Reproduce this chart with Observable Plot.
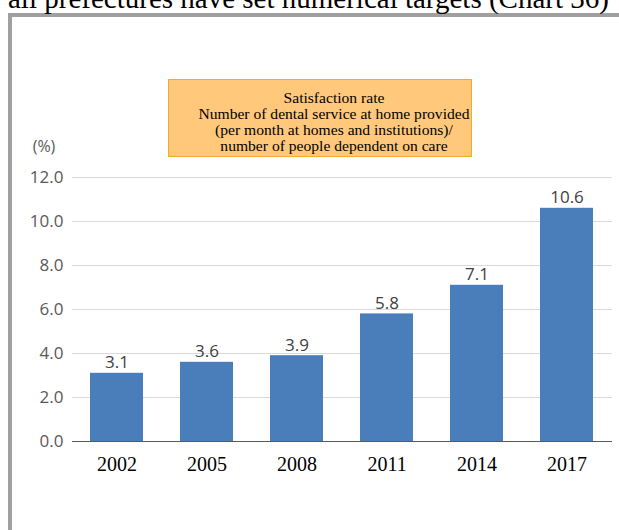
<!DOCTYPE html>
<html><head><meta charset="utf-8">
<script src="https://cdn.jsdelivr.net/npm/d3@7"></script>
<script src="https://cdn.jsdelivr.net/npm/@observablehq/plot@0.6"></script>
<style>
body{margin:0;background:#fff}
#wrap{position:relative;width:619px;height:530px;overflow:hidden;background:#fff}
#title{position:absolute;left:8px;top:-16px;white-space:nowrap;font-family:"Liberation Serif",serif;font-size:29px;line-height:29px;color:#000}
#frame{position:absolute;left:8px;top:13px;width:800px;height:800px;border:4px solid #a0a0a0;box-sizing:border-box}
#chart{position:absolute;left:0;top:0}
#unit{position:absolute;left:14px;width:60px;text-align:center;top:136px;font-family:"Open Sans",sans-serif;font-size:16px;line-height:20px;color:#595959}
#box{position:absolute;left:168px;top:79px;width:304px;height:78px;box-sizing:border-box;background:#ffc87a;border:1px solid #f5a833}
#boxtext{position:absolute;left:134px;width:400px;top:89.8px;text-align:center;font-family:"Liberation Serif",serif;font-size:15.6px;line-height:16px;color:#000;white-space:nowrap}
</style></head><body>
<div id="wrap">
 <div id="frame"></div>
 <div id="title">all prefectures have set numerical targets (Chart 36)</div>
 <div id="chart"></div>
 <div id="unit">(%)</div>
 <div id="box"></div>
 <div id="boxtext"></div>
</div>
<script>
const years = ["2002","2005","2008","2011","2014","2017"];
const rates = [3.1, 3.6, 3.9, 5.8, 7.1, 10.6];
const yTicks = [0, 2, 4, 6, 8, 10, 12];
const boxLines = [
  "Satisfaction rate",
  "Number of dental service at home provided",
  "(per month at homes and institutions)/",
  "number of people dependent on care"
];
const data = years.map((y, i) => ({year: y, rate: rates[i]}));

document.getElementById("boxtext").innerHTML = boxLines.map(t => `<div>${t}</div>`).join("");

const chart = Plot.plot({
  width: 619, height: 530,
  marginLeft: 72, marginRight: 7, marginTop: 177, marginBottom: 89,
  style: {background: "transparent", fontFamily: "'Open Sans', sans-serif", fontSize: "17px"},
  x: {domain: years, paddingInner: 0.41, paddingOuter: 0.205, label: null},
  y: {domain: [0, 12], label: null},
  marks: [
    Plot.gridY(yTicks, {stroke: "#d9d9d9", strokeOpacity: 1}),
    Plot.axisY(yTicks, {tickSize: 0, tickPadding: 9, tickFormat: d => d.toFixed(1), fill: "#595959", fontSize: 17, label: null}),
    Plot.barY(data, {x: "year", y: "rate", fill: "#4a7ebb"}),
    Plot.ruleY([0], {stroke: "#595959"}),
    Plot.axisX({tickSize: 0, tickPadding: 15, fontFamily: "'Liberation Serif', serif", fontSize: 20, fill: "#000", label: null}),
    Plot.text(data, {x: "year", y: "rate", text: d => d.rate.toFixed(1), lineAnchor: "bottom", dy: -5, fill: "#404040", fontSize: 17})
  ]
});
document.getElementById("chart").appendChild(chart);
</script>
</body></html>
